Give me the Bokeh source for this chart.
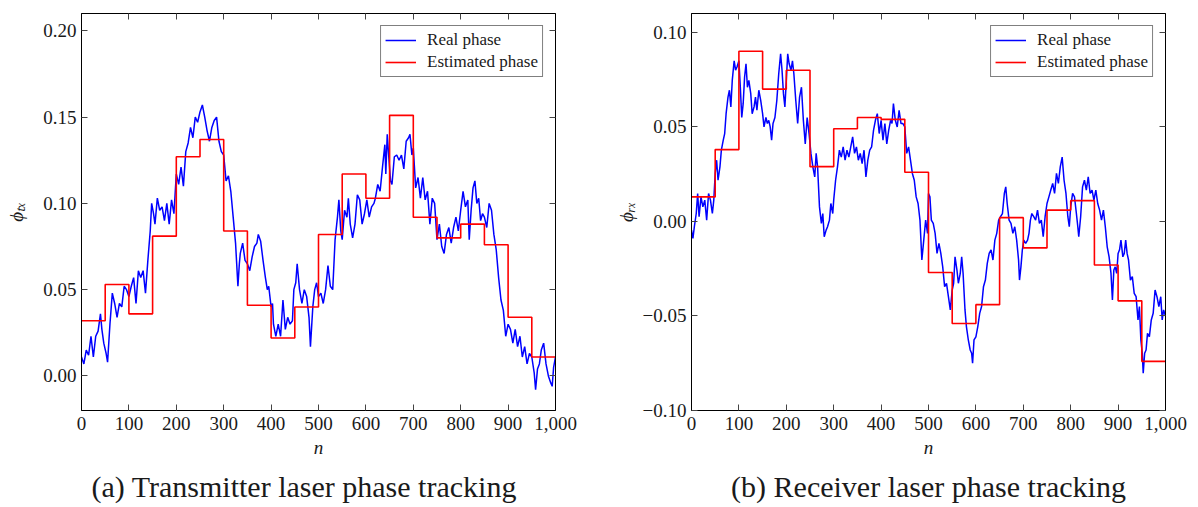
from bokeh.plotting import figure
from bokeh.layouts import row
from bokeh.models import (LinearAxis, FixedTicker, CustomJSTickFormatter,
                          NumeralTickFormatter, Legend, LegendItem)
from bokeh.embed import file_html
from bokeh.resources import INLINE

# ---------------- data ----------------
# (a) transmitter
n_tx = [0, 5, 10, 15, 20, 25, 30, 35, 40, 43, 47, 52, 55, 60, 65, 70, 75, 80, 85, 90,
        95, 100, 105, 110, 115, 120, 125, 130, 135, 140, 145, 148, 152, 155, 160, 165, 170, 175, 180, 185,
        190, 195, 200, 205, 210, 215, 220, 225, 230, 235, 240, 245, 250, 255, 260, 265, 270, 275, 280, 285,
        290, 295, 300, 305, 310, 315, 320, 325, 330, 333, 335, 340, 345, 350, 355, 360, 365, 370, 373, 378,
        383, 388, 392, 395, 400, 403, 405, 410, 415, 420, 425, 430, 435, 440, 445, 448, 452, 455, 460, 465,
        470, 475, 480, 483, 488, 492, 496, 500, 505, 510, 515, 520, 525, 530, 535, 540, 543, 547, 550, 555,
        560, 563, 567, 572, 577, 582, 587, 592, 597, 602, 607, 612, 617, 620, 625, 630, 635, 640, 642, 645,
        648, 652, 655, 660, 665, 670, 675, 680, 685, 690, 693, 697, 700, 705, 710, 715, 720, 725, 730, 735,
        740, 745, 750, 755, 760, 765, 770, 775, 780, 785, 790, 795, 800, 805, 810, 815, 818, 822, 826, 830,
        834, 838, 842, 846, 850, 855, 860, 865, 870, 875, 880, 885, 890, 895, 900, 905, 910, 915, 920, 925,
        930, 935, 940, 945, 950, 955, 958, 962, 966, 970, 975, 980, 985, 990, 993, 996, 1000]
phi_tx = [0.011, 0.007, 0.015, 0.012, 0.023, 0.011, 0.023, 0.026, 0.036, 0.027, 0.019, 0.013, 0.008, 0.030, 0.048, 0.042, 0.034, 0.042, 0.040, 0.052,
          0.050, 0.046, 0.052, 0.057, 0.042, 0.061, 0.057, 0.061, 0.048, 0.067, 0.084, 0.100, 0.094, 0.088, 0.103, 0.096, 0.098, 0.090, 0.100, 0.088,
          0.102, 0.094, 0.117, 0.111, 0.121, 0.110, 0.130, 0.135, 0.144, 0.138, 0.150, 0.147, 0.153, 0.157, 0.150, 0.142, 0.136, 0.144, 0.148, 0.150,
          0.136, 0.130, 0.128, 0.113, 0.116, 0.107, 0.092, 0.077, 0.052, 0.065, 0.071, 0.077, 0.067, 0.065, 0.061, 0.069, 0.075, 0.077, 0.082, 0.078,
          0.067, 0.057, 0.050, 0.052, 0.040, 0.042, 0.030, 0.023, 0.030, 0.023, 0.044, 0.027, 0.034, 0.030, 0.032, 0.050, 0.054, 0.065, 0.050, 0.042,
          0.050, 0.046, 0.034, 0.017, 0.040, 0.050, 0.054, 0.046, 0.048, 0.042, 0.050, 0.064, 0.052, 0.050, 0.079, 0.092, 0.102, 0.084, 0.079, 0.096,
          0.092, 0.103, 0.088, 0.080, 0.088, 0.105, 0.102, 0.088, 0.094, 0.102, 0.092, 0.098, 0.100, 0.103, 0.111, 0.107, 0.121, 0.134, 0.117, 0.140,
          0.128, 0.113, 0.111, 0.127, 0.128, 0.125, 0.128, 0.120, 0.136, 0.138, 0.140, 0.128, 0.132, 0.109, 0.115, 0.103, 0.115, 0.102, 0.107, 0.088,
          0.103, 0.100, 0.079, 0.088, 0.075, 0.071, 0.082, 0.086, 0.077, 0.086, 0.092, 0.084, 0.096, 0.107, 0.098, 0.102, 0.079, 0.096, 0.109, 0.113,
          0.100, 0.103, 0.090, 0.094, 0.092, 0.086, 0.100, 0.096, 0.082, 0.073, 0.057, 0.044, 0.038, 0.023, 0.030, 0.027, 0.019, 0.027, 0.017, 0.023,
          0.011, 0.017, 0.007, 0.013, 0.011, 0.002, -0.008, 0.004, 0.007, 0.015, 0.019, 0.007, 0.000, -0.004, -0.006, 0.005, 0.011]
edges_tx = [0, 50, 100, 150, 200, 250, 300, 350, 400, 450, 500, 550, 600, 650, 700, 750, 800, 850, 900, 950, 1000]
est_tx = [0.032, 0.053, 0.036, 0.081, 0.127, 0.137, 0.084, 0.041, 0.022, 0.040,
          0.082, 0.117, 0.103, 0.151, 0.092, 0.080, 0.088, 0.076, 0.034, 0.011, 0.011]

# (b) receiver
n_rx = [0, 3, 6, 10, 13, 16, 20, 24, 28, 32, 36, 40, 44, 47, 50, 53, 56, 60, 63, 67,
        70, 73, 77, 80, 83, 86, 90, 93, 96, 100, 103, 106, 109, 112, 115, 118, 121, 125, 128, 132,
        135, 138, 142, 146, 150, 153, 157, 160, 163, 166, 169, 172, 176, 180, 184, 188, 191, 194, 197, 200,
        203, 206, 210, 213, 216, 220, 224, 228, 232, 236, 240, 244, 248, 252, 256, 260, 263, 266, 270, 274,
        277, 280, 284, 287, 291, 294, 298, 300, 304, 308, 312, 316, 320, 324, 328, 332, 336, 340, 344, 348,
        352, 356, 360, 364, 368, 372, 376, 380, 384, 388, 392, 396, 400, 404, 408, 412, 416, 420, 423, 426,
        430, 434, 438, 442, 446, 450, 454, 458, 462, 466, 470, 474, 478, 482, 486, 490, 494, 498, 500, 503,
        506, 510, 514, 518, 522, 526, 530, 534, 538, 542, 546, 550, 553, 556, 560, 563, 567, 570, 573, 577,
        580, 584, 588, 591, 593, 596, 600, 604, 608, 612, 616, 620, 624, 628, 632, 636, 640, 644, 648, 652,
        656, 660, 663, 666, 670, 674, 678, 682, 686, 690, 692, 695, 698, 701, 705, 709, 712, 715, 718, 722,
        726, 730, 734, 738, 742, 746, 750, 754, 758, 762, 766, 770, 774, 778, 782, 786, 790, 794, 797, 800,
        804, 808, 812, 815, 817, 821, 825, 829, 833, 837, 841, 845, 849, 853, 857, 861, 865, 869, 873, 877,
        881, 885, 888, 891, 894, 897, 900, 903, 906, 910, 913, 916, 919, 922, 926, 930, 934, 938, 942, 945,
        948, 951, 953, 956, 959, 962, 966, 970, 974, 978, 982, 986, 990, 993, 996, 1000]
phi_rx = [-0.0046, -0.009, -0.0028, 0.0042, 0.0148, 0.0025, 0.013, 0.0077, 0.0113, 0.0007, 0.0148, 0.0113, 0.0042, 0.0113, 0.0254, 0.0324, 0.0218, 0.0289, 0.0377, 0.043,
          0.0465, 0.057, 0.0658, 0.0694, 0.0606, 0.0746, 0.085, 0.080, 0.0817, 0.085, 0.071, 0.055, 0.0623, 0.0764, 0.0834, 0.071, 0.0746, 0.0676, 0.057, 0.0606,
          0.0658, 0.0588, 0.0694, 0.064, 0.057, 0.050, 0.055, 0.0518, 0.0535, 0.050, 0.043, 0.0518, 0.055, 0.064, 0.078, 0.0887, 0.080, 0.0676, 0.0606, 0.0746,
          0.0887, 0.0834, 0.080, 0.085, 0.078, 0.064, 0.0518, 0.0658, 0.071, 0.0535, 0.041, 0.055, 0.0465, 0.036, 0.0289, 0.0236, 0.036, 0.0289, 0.0077, -0.001,
          0.0042, -0.0081, -0.0046, -0.0028, 0.0007, 0.0095, 0.0042, 0.0113, 0.0218, 0.0289, 0.0377, 0.034, 0.0394, 0.0324, 0.0377, 0.034, 0.0394, 0.0447, 0.036, 0.0394,
          0.0324, 0.036, 0.0306, 0.0377, 0.0236, 0.0324, 0.0377, 0.0394, 0.0482, 0.0535, 0.057, 0.0465, 0.0535, 0.043, 0.0518, 0.041, 0.0482, 0.0535, 0.0518, 0.0623,
          0.0535, 0.050, 0.0588, 0.0518, 0.0518, 0.050, 0.036, 0.0394, 0.0324, 0.0254, 0.0218, 0.013, 0.0095, 0.0007, -0.0204, -0.0099, 0.0007, -0.0063, 0.0148, 0.013,
          0.0007, -0.001, -0.0063, -0.0169, -0.0116, -0.0169, -0.024, -0.0345, -0.0327, -0.0398, -0.0468, -0.0363, -0.0327, -0.0187, -0.0257, -0.0327, -0.0275, -0.0187, -0.0275, -0.0468,
          -0.0556, -0.0627, -0.068, -0.0697, -0.075, -0.0627, -0.061, -0.0556, -0.0486, -0.045, -0.0345, -0.031, -0.0222, -0.0169, -0.015, -0.0204, -0.0099, -0.0063, 0.0007, 0.0025,
          0.0042, 0.0148, 0.0183, 0.0095, 0.0007, -0.001, -0.0063, -0.0028, -0.0099, -0.0204, -0.031, -0.024, -0.015, -0.0099, -0.0116, -0.0099, -0.0063, 0.0007, 0.0042, 0.0025,
          0.0007, 0.006, -0.001, 0.0007, -0.0081, 0.0025, 0.0095, 0.013, 0.0166, 0.0201, 0.0148, 0.0254, 0.0201, 0.0289, 0.034, 0.0218, 0.0148, 0.0025, -0.0028, 0.0077,
          0.0148, 0.013, 0.0042, -0.0028, -0.0081, 0.0025, 0.0183, 0.0218, 0.0166, 0.0236, 0.0148, 0.0166, 0.0113, 0.0166, 0.0095, 0.006, 0.0007, 0.006, -0.0028, -0.0134,
          -0.0187, -0.0275, -0.0415, -0.0257, -0.024, -0.0275, -0.0169, -0.015, -0.0099, -0.0187, -0.0169, -0.0099, -0.0169, -0.0204, -0.031, -0.0292, -0.038, -0.0398, -0.0521, -0.045,
          -0.0627, -0.0697, -0.0803, -0.0697, -0.068, -0.0592, -0.061, -0.0521, -0.0486, -0.0363, -0.0398, -0.045, -0.0398, -0.0521, -0.0468, -0.050]
edges_rx = [0, 50, 100, 150, 200, 250, 300, 350, 400, 450, 500, 550, 600, 650, 700, 750, 800, 850, 900, 950, 1000]
est_rx = [0.013, 0.038, 0.090, 0.070, 0.080, 0.029, 0.049, 0.055, 0.054, 0.026,
          -0.027, -0.054, -0.044, 0.002, -0.014, 0.006, 0.011, -0.023, -0.042, -0.074, -0.074]

x_ticks = [0, 100, 200, 300, 400, 500, 600, 700, 800, 900, 1000]
y_ticks_tx = [0.0, 0.05, 0.10, 0.15, 0.20]
y_ticks_rx = [-0.10, -0.05, 0.0, 0.05, 0.10]

FONT = "Liberation Serif"
TICK_COL = "#444444"
TEXT_COL = "#1a1a1a"


def make_plot(n, phi, edges, est, yr, yticks, ylabel, caption, mbl, mbr, ylab_standoff, cap_align, cap_offset):
    p = figure(frame_width=474, frame_height=397, x_range=(0, 1000), y_range=yr,
               output_backend="svg", toolbar_location=None,
               title=caption, title_location="below",
               min_border_left=mbl, min_border_right=mbr, min_border_top=13, min_border_bottom=0)
    p.title.align = cap_align
    p.title.offset = cap_offset
    p.title.text_font = FONT
    p.title.text_font_size = "30px"
    p.title.text_font_style = "normal"
    p.title.text_color = TEXT_COL
    p.title.standoff = 15
    p.grid.visible = False
    p.outline_line_color = "black"
    p.outline_line_width = 1
    p.background_fill_color = "white"
    p.border_fill_color = "white"

    r1 = p.line(n, phi, line_color="#0000ff", line_width=1.5)
    r2 = p.step(edges, est, mode="after", line_color="#ff0000", line_width=1.6)

    xa = p.xaxis[0]
    xa.ticker = FixedTicker(ticks=x_ticks)
    xa.formatter = NumeralTickFormatter(format="0,0")
    ya = p.yaxis[0]
    ya.ticker = FixedTicker(ticks=yticks)
    ya.formatter = CustomJSTickFormatter(
        code="return (tick < -1e-9 ? '\u2212' : '') + Math.abs(tick).toFixed(2);")
    for ax in (xa, ya):
        ax.major_tick_in = 6
        ax.major_tick_out = 0
        ax.minor_tick_line_color = None
        ax.major_tick_line_color = TICK_COL
        ax.axis_line_color = "black"
        ax.major_label_text_font = FONT
        ax.major_label_text_font_size = "19px"
        ax.major_label_text_color = TEXT_COL
        ax.axis_label_text_font = FONT
        ax.axis_label_text_font_size = "19px"
        ax.axis_label_text_font_style = "italic"
        ax.axis_label_text_color = TEXT_COL
    xa.axis_label = "n"
    xa.major_label_standoff = 6
    xa.axis_label_standoff = 4
    ya.axis_label = ylabel
    ya.major_label_standoff = 5
    ya.axis_label_standoff = ylab_standoff

    # mirrored ticks on top and right
    top = LinearAxis(ticker=FixedTicker(ticks=x_ticks),
                     formatter=CustomJSTickFormatter(code="return '';"))
    right = LinearAxis(ticker=FixedTicker(ticks=yticks),
                       formatter=CustomJSTickFormatter(code="return '';"))
    for ax in (top, right):
        ax.major_tick_in = 6
        ax.major_tick_out = 0
        ax.minor_tick_line_color = None
        ax.major_tick_line_color = TICK_COL
        ax.axis_line_color = "black"
        ax.major_label_standoff = 0
        ax.major_label_text_font_size = "1px"
    p.add_layout(top, "above")
    p.add_layout(right, "right")

    legend = Legend(items=[LegendItem(label="Real phase", renderers=[r1]),
                           LegendItem(label="Estimated phase", renderers=[r2])],
                    location="top_right")
    legend.margin = 12
    legend.padding = 4
    legend.spacing = 2
    legend.glyph_width = 31
    legend.glyph_height = 18
    legend.label_height = 18
    legend.label_standoff = 11
    legend.label_text_font = FONT
    legend.label_text_font_size = "17px"
    legend.label_text_color = TEXT_COL
    legend.border_line_color = "black"
    legend.border_line_width = 1
    legend.background_fill_alpha = 1.0
    p.add_layout(legend)
    return p


p1 = make_plot(n_tx, phi_tx, edges_tx, est_tx, (-0.02, 0.21), y_ticks_tx,
               "\u03d5\u209c\u2093", "(a) Transmitter laser phase tracking", 81, 57, 13, "left", 10)
p2 = make_plot(n_rx, phi_rx, edges_rx, est_rx, (-0.10, 0.11), y_ticks_rx,
               "\u03d5\u1d63\u2093", "(b) Receiver laser phase tracking", 73, 22, 3, "center", 0)

layout = row(p1, p2)
open("out.html", "w").write(file_html(layout, INLINE))
